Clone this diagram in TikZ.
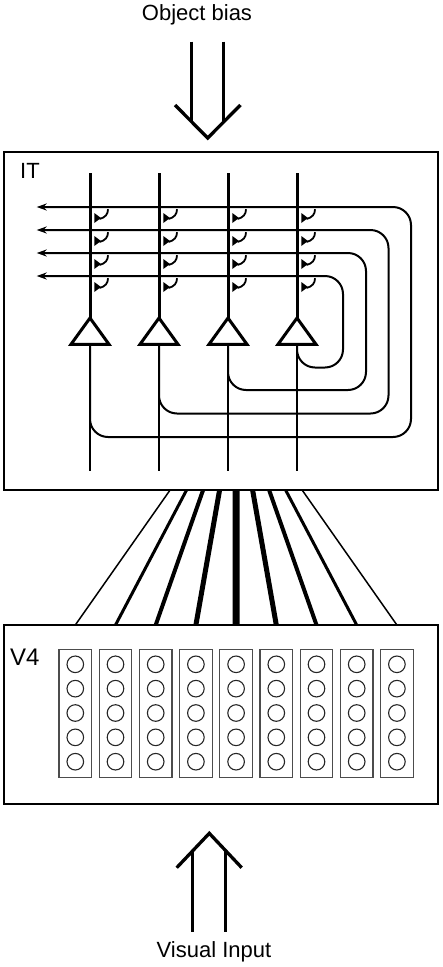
\documentclass[tikz,border=0pt]{standalone}
\usepackage{fontspec}
\setmainfont{Liberation Sans}
\usetikzlibrary{arrows.meta}
\begin{document}
\begin{tikzpicture}[x=1pt,y=-1pt,
  txt/.style={inner sep=0pt,font=\fontsize{22}{26}\selectfont},
  bigtxt/.style={inner sep=0pt,font=\fontsize{24}{28}\selectfont},
  box/.style={draw,line width=2pt,inner sep=0pt,minimum width=434pt},
  fat/.style={line width=3.3pt},
  dend/.style={line width=3pt},
  soma/.style={line width=3pt,line join=miter},
  axon/.style={line width=1.8pt},
  coll/.style={line width=2pt,{Stealth[length=10pt,width=7pt]}-},
  syncurve/.style={line width=1.8pt},
  colbox/.style={draw=black!70,line width=1.2pt,fill=none},
  cell/.style={draw=black!85,line width=1.1pt},
  fan/.style={line cap=butt}
]
\useasboundingbox (0,0) rectangle (443,967);

% texts
\node[txt,anchor=base] (ob) at (197,20.8) {Object bias};
\node[txt,anchor=base] (vi) at (214,957.5) {Visual Input};

% fan of projections V4 -> IT (drawn before the boxes)
\foreach \i/\w in {0/1.5,1/3,2/4,3/5,4/7,5/5,6/4,7/3,8/1.5}{
  \coordinate (ft\i) at ({170.1+16.5*\i},490);
  \coordinate (fb\i) at ({75.3+40.2*\i},625);
  \draw[fan,line width=\w pt] (fb\i) -- (ft\i);
}

% boxes
\node[box,minimum height=338pt] (IT) at (221,321) {};
\node[box,minimum height=179pt] (V4) at (221,714.5) {};
\node[txt,anchor=base west] (ITl) at (20,178) {IT};
\node[bigtxt,anchor=base west] (V4l) at (10,665) {V4};

% object bias arrow (down)
\coordinate (dl1) at (191.7,41.7);
\coordinate (dl2) at (191.7,122);
\coordinate (dr1) at (223.3,41.7);
\coordinate (dr2) at (223.3,122.5);
\draw[fat] (dl1) -- (dl2);
\draw[fat] (dr1) -- (dr2);
\coordinate (dcl) at (175,105);
\coordinate (dca) at (207.7,138);
\coordinate (dcr) at (240.5,105);
\draw[fat,line join=miter] (dcl) -- (dca) -- (dcr);

% visual input arrow (up)
\coordinate (ul1) at (192.7,931.7);
\coordinate (ul2) at (192.7,851);
\coordinate (ur1) at (225.7,931.7);
\coordinate (ur2) at (225.7,851);
\draw[fat] (ul1) -- (ul2);
\draw[fat] (ur1) -- (ur2);
\coordinate (ucl) at (176.7,867.7);
\coordinate (uca) at (209.3,833.3);
\coordinate (ucr) at (241.7,867.7);
\draw[fat,line join=miter] (ucl) -- (uca) -- (ucr);

% IT network
\def\R{18}
\foreach \k/\x/\y/\r/\b in {1/90/207/411/437, 2/159/230/388.5/413.5, 3/228/253/366/390, 4/297/276/343/367.5}{
  \coordinate (top\k) at (\x,173.3);
  \coordinate (apex\k) at (\x,318);
  \coordinate (bl\k) at (\x-19,344.3);
  \coordinate (br\k) at (\x+19,344.3);
  \coordinate (base\k) at (\x,344.3);
  \coordinate (out\k) at (\x,471);
  \coordinate (tip\k) at (36.7,\y);
  % recurrent collateral
  \draw[coll] (tip\k) -- (\r-\R,\y)
     arc[start angle=-90,end angle=0,radius=\R]
     -- (\r,\b-\R)
     arc[start angle=0,end angle=90,radius=\R]
     -- (\x+\R,\b)
     arc[start angle=90,end angle=180,radius=\R]
     -- (base\k);
  % output axon
  \draw[axon] (base\k) -- (out\k);
  % apical dendrite
  \draw[dend] (top\k) -- (apex\k);
  % soma
  \draw[soma] (apex\k) -- (br\k) -- (bl\k) -- cycle;
}

% synapses
\foreach \x in {90,159,228,297}{
  \foreach \y in {207,230,253,276}{
    \fill (\x+4.3,\y+6) -- (\x+4.3,\y+16) -- (\x+11,\y+11) -- cycle;
    \draw[syncurve] (\x+9.5,\y+12) .. controls (\x+15.5,\y+10.5) and (\x+18,\y+7) .. (\x+18,\y+2.2);
  }
}

% V4 columns
\foreach \i in {0,...,8}{
  \pgfmathsetmacro{\cx}{75.3+40.2*\i}
  \draw[colbox] (\cx-16.3,649.3) rectangle (\cx+16.3,777.7);
  \foreach \j in {0,...,4}{
    \draw[cell] (\cx,{664.3+24.35*\j}) circle[radius=8.3pt];
  }
}
\end{tikzpicture}
\end{document}
